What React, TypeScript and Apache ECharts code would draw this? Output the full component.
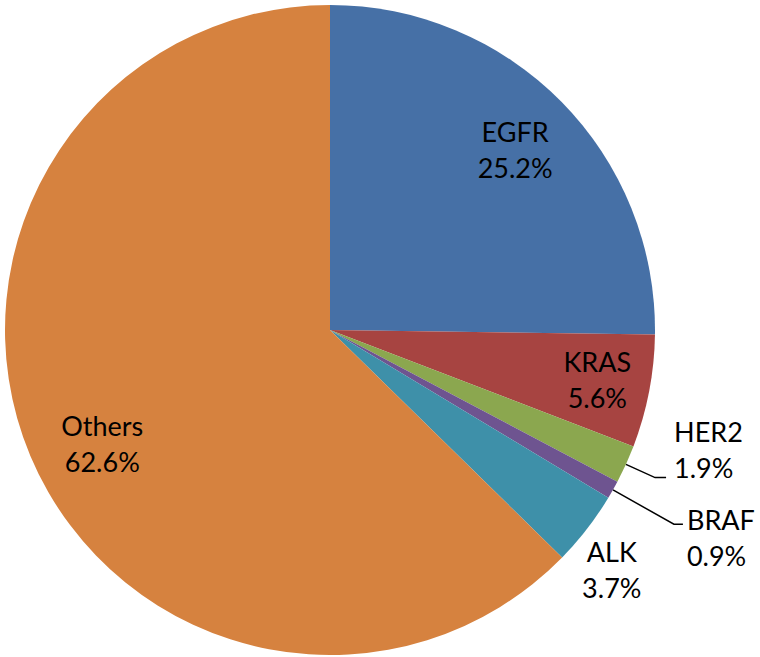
import React, { useEffect, useRef } from "react";
import * as echarts from "echarts";

const categories = ["EGFR", "KRAS", "HER2", "BRAF", "ALK", "Others"];
const shares = [25.2, 5.6, 1.9, 0.9, 3.7, 62.6];
const colors = ["#4670A6", "#A74441", "#8BA74F", "#6E5490", "#3E90A9", "#D6823F"];

// which label style each slice uses
const innerLabelled = ["EGFR", "KRAS", "Others"];
const leaderLabelled = ["HER2", "BRAF"];
const farLabelled = ["ALK"];

const FONT = "Lato, 'Open Sans', sans-serif";

export default function App() {
  const ref = useRef<HTMLDivElement>(null);
  useEffect(() => {
    if (!ref.current) return;
    document.body.style.margin = "0";
    const chart = echarts.init(ref.current, undefined, { renderer: "svg" });

    const baseLabel = {
      formatter: "{b}\n{c}%",
      fontSize: 27,
      lineHeight: 36,
      color: "#000",
      fontFamily: FONT,
    };

    const innerOffsets: Record<string, number[]> = {
      EGFR: [0, 2],
      KRAS: [12, 0],
      Others: [12, 13],
    };
    const leaderOffsets: Record<string, number[]> = {
      HER2: [5, -28],
      BRAF: [1, 13],
    };
    const leaderLen: Record<string, number[]> = {
      HER2: [32, 11],
      BRAF: [70, 9],
    };

    const mainData = categories.map((name, i) => {
      const isLeader = leaderLabelled.includes(name);
      return {
        name,
        value: shares[i],
        itemStyle: { color: colors[i] },
        label: isLeader
          ? {
              show: true,
              position: "outside",
              ...baseLabel,
              offset: leaderOffsets[name],
              distanceToLabelLine: 3,
            }
          : { show: false },
        labelLine: isLeader
          ? {
              show: true,
              length: leaderLen[name][0],
              length2: leaderLen[name][1],
              lineStyle: { color: "#000", width: 1.5 },
            }
          : { show: false },
      };
    });

    const innerData = categories.map((name, i) => ({
      name,
      value: shares[i],
      label: innerLabelled.includes(name)
        ? { show: true, position: "inside", ...baseLabel, offset: innerOffsets[name] }
        : { show: false },
    }));

    const farData = categories.map((name, i) => ({
      name,
      value: shares[i],
      label: farLabelled.includes(name)
        ? { show: true, position: "inside", ...baseLabel, offset: [-10, 14] }
        : { show: false },
    }));

    const overlayCommon = {
      type: "pie" as const,
      center: [330, 330],
      startAngle: 90,
      clockwise: true,
      silent: true,
      avoidLabelOverlap: false,
      labelLayout: { hideOverlap: false },
      itemStyle: { color: "rgba(0,0,0,0)", borderWidth: 0 },
      labelLine: { show: false },
      emphasis: { disabled: true },
    };

    chart.setOption({
      animation: false,
      backgroundColor: "#fff",
      series: [
        {
          type: "pie",
          center: [330, 330],
          radius: [0, 325],
          startAngle: 90,
          clockwise: true,
          avoidLabelOverlap: false,
          labelLayout: { hideOverlap: false },
          itemStyle: { borderWidth: 0 },
          emphasis: { disabled: true },
          data: mainData,
        },
        { ...overlayCommon, radius: [189, 325], data: innerData },
        { ...overlayCommon, radius: [340, 392], data: farData },
      ],
    });
    return () => chart.dispose();
  }, []);
  return (
    <div
      ref={ref}
      style={{ position: "absolute", left: 0, top: 0, width: 760, height: 657 }}
    />
  );
}
